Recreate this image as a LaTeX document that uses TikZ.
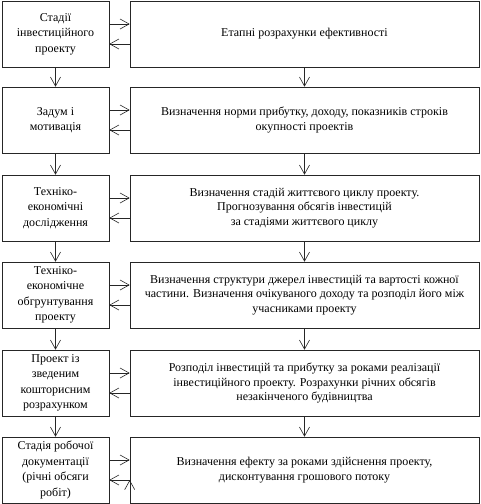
\documentclass[tikz,border=0pt]{standalone}
\usepackage{fontspec}
\setmainfont{Liberation Serif}
\newfontfamily\timesfont{Liberation Serif}
\usepackage{tikz}
\usetikzlibrary{arrows.meta}

\begin{document}
\begin{tikzpicture}[x=1pt, y=-1pt,
            every node/.style={draw=black!85, line width=0.6pt, align=center, minimum height=66pt},
            stage/.style={minimum width=107pt, inner sep=1pt, font=\timesfont\fontsize{12}{15.5}\selectfont},
            task/.style={minimum width=349pt, inner sep=3pt, font=\timesfont\fontsize{12}{14.5}\selectfont},
            arr/.style={draw=black!85, line width=0.6pt, -{Straight Barb[length=9pt,width=10pt]}}]
            \useasboundingbox (0,0) rectangle (481,504);
            % stages of the project (left column)
            \node[stage] (L1) at (55.5,34)  {Стадії\\інвестиційного\\проекту};
            \node[stage] (L2) at (55.5,120) {Задум і\\мотивація};
            \node[stage] (L3) at (55.5,208) {Техніко-\\економічні\\дослідження};
            \node[stage] (L4) at (55.5,295) {Техніко-\\економічне\\обгрунтування\\проекту};
            \node[stage] (L5) at (55.5,383) {Проект із\\зведеним\\кошторисним\\розрахунком};
            \node[stage] (L6) at (55.5,470) {Стадія робочої\\документації\\(річні обсяги\\робіт)};
            % calculations (right column)
            \node[task] (R1) at (304.5,34)  {Етапні розрахунки ефективності};
            \node[task] (R2) at (304.5,120) {Визначення норми прибутку, доходу, показників строків\\окупності проектів};
            \node[task] (R3) at (304.5,208) {Визначення стадій життєвого циклу проекту.\\Прогнозування обсягів інвестицій\\за стадіями життєвого циклу};
            \node[task] (R4) at (304.5,295) {Визначення структури джерел інвестицій та вартості кожної\\частини. Визначення очікуваного доходу та розподіл його між\\учасниками проекту};
            \node[task] (R5) at (304.5,383) {Розподіл інвестицій та прибутку за роками реалізації\\інвестиційного проекту. Розрахунки річних обсягів\\незакінченого будівництва};
            \node[task] (R6) at (304.5,470) {Визначення ефекту за роками здійснення проекту,\\дисконтування грошового потоку};
            \path[arr]  (L1) edge (L2)
                        (L2) edge (L3)
                        (L3) edge (L4)
                        (L4) edge (L5)
                        (L5) edge (L6)
                        (R1) edge (R2)
                        (R2) edge (R3)
                        (R3) edge (R4)
                        (R4) edge (R5)
                        (R5) edge (R6);
            \path[arr]  ([yshift=10pt]L1.east) edge ([yshift=10pt]L1.east -| R1.west)
                        ([yshift=-10pt]L1.east -| R1.west) edge ([yshift=-10pt]L1.east)
                        ([yshift=10pt]L2.east) edge ([yshift=10pt]L2.east -| R2.west)
                        ([yshift=-10pt]L2.east -| R2.west) edge ([yshift=-10pt]L2.east)
                        ([yshift=10pt]L3.east) edge ([yshift=10pt]L3.east -| R3.west)
                        ([yshift=-10pt]L3.east -| R3.west) edge ([yshift=-10pt]L3.east)
                        ([yshift=10pt]L4.east) edge ([yshift=10pt]L4.east -| R4.west)
                        ([yshift=-10pt]L4.east -| R4.west) edge ([yshift=-10pt]L4.east)
                        ([yshift=10pt]L5.east) edge ([yshift=10pt]L5.east -| R5.west)
                        ([yshift=-10pt]L5.east -| R5.west) edge ([yshift=-10pt]L5.east)
                        ([yshift=10pt]L6.east) edge ([yshift=10pt]L6.east -| R6.west)
                        ([yshift=-10pt]L6.east -| R6.west) edge ([yshift=-10pt]L6.east);
        \end{tikzpicture}
\end{document}
